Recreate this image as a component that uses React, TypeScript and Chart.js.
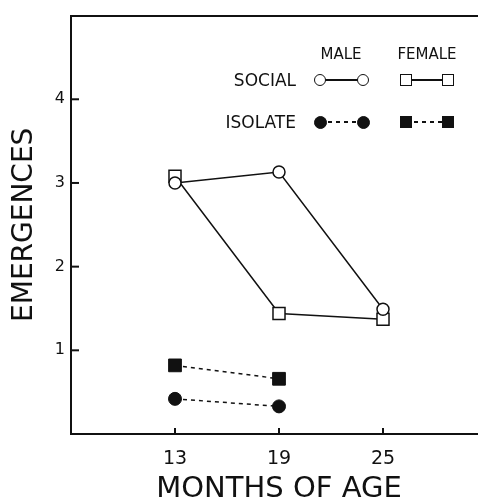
import React, { useEffect, useRef } from "react";
import { Chart, registerables } from "chart.js";
Chart.register(...registerables);

const months = [13, 19, 25];
const isolateMonths = [13, 19];
const maleSocial = [3.0, 3.13, 1.49];
const femaleSocial = [3.08, 1.44, 1.37];
const maleIsolate = [0.42, 0.33];
const femaleIsolate = [0.82, 0.66];
const xTicks = [13, 19, 25];
const yTicks = [1, 2, 3, 4];
const xTitle = "MONTHS OF AGE";
const yTitle = "EMERGENCES";
const legendCols = ["MALE", "FEMALE"];
const legendRows = ["SOCIAL", "ISOLATE"];

const FONT = "'DejaVu Sans', sans-serif";
const INK = "#111";

const toXY = (xs: number[], ys: number[]) => xs.map((x, i) => ({ x, y: ys[i] }));

const tickPlugin = {
  id: "inwardTicks",
  afterDraw(chart: any) {
    const { ctx, chartArea, scales } = chart;
    ctx.save();
    ctx.strokeStyle = INK;
    ctx.lineWidth = 2;
    yTicks.forEach((v) => {
      const py = scales.y.getPixelForValue(v);
      ctx.beginPath();
      ctx.moveTo(chartArea.left, py);
      ctx.lineTo(chartArea.left + 8, py);
      ctx.stroke();
    });
    xTicks.forEach((v) => {
      const px = scales.x.getPixelForValue(v);
      ctx.beginPath();
      ctx.moveTo(px, chartArea.bottom);
      ctx.lineTo(px, chartArea.bottom - 6);
      ctx.stroke();
    });
    ctx.restore();
  },
};

function Marker({ x, y, round, filled }: { x: number; y: number; round: boolean; filled: boolean }) {
  const s = round && filled ? 13 : 12;
  return (
    <div
      style={{
        position: "absolute",
        left: x - s / 2,
        top: y - s / 2,
        width: s,
        height: s,
        boxSizing: "border-box",
        border: `1.5px solid ${INK}`,
        borderRadius: round ? "50%" : 0,
        background: filled ? INK : "#fff",
      }}
    />
  );
}

function LegendLine({ x1, x2, y, dashed }: { x1: number; x2: number; y: number; dashed: boolean }) {
  return (
    <div
      style={{
        position: "absolute",
        left: x1,
        top: y - 0.75,
        width: x2 - x1,
        height: 1.5,
        background: dashed ? `repeating-linear-gradient(to right, ${INK} 0 4px, transparent 4px 8px)` : INK,
      }}
    />
  );
}

function Legend() {
  const colX = [341, 427];
  const markX = [
    [320, 363],
    [406, 448],
  ];
  const rowY = [80, 122];
  const txt = { position: "absolute" as const, fontFamily: FONT, color: INK, lineHeight: 1, whiteSpace: "nowrap" as const };
  return (
    <>
      {legendCols.map((t, i) => (
        <div key={t} style={{ ...txt, fontSize: 15, left: colX[i], top: 54, transform: "translate(-50%, -50%)" }}>
          {t}
        </div>
      ))}
      {legendRows.map((t, r) => (
        <div key={t} style={{ ...txt, fontSize: 17, left: 296, top: rowY[r], transform: "translate(-100%, -50%)" }}>
          {t}
        </div>
      ))}
      {rowY.map((y, r) =>
        markX.map(([x1, x2], c) => (
          <React.Fragment key={`${r}-${c}`}>
            <LegendLine x1={x1} x2={x2} y={y} dashed={r === 1} />
            <Marker x={x1} y={y} round={c === 0} filled={r === 1} />
            <Marker x={x2} y={y} round={c === 0} filled={r === 1} />
          </React.Fragment>
        ))
      )}
    </>
  );
}

export default function App() {
  const ref = useRef<HTMLCanvasElement | null>(null);
  useEffect(() => {
    if (!ref.current) return;
    const social = { borderColor: INK, borderWidth: 1.5, pointBorderWidth: 1.5, pointBorderColor: INK, pointBackgroundColor: "#fff" };
    const isolate = { borderColor: INK, borderWidth: 1.5, borderDash: [4, 4], pointBorderWidth: 1, pointBorderColor: INK, pointBackgroundColor: INK };
    const chart = new Chart(ref.current, {
      type: "line",
      data: {
        datasets: [
          { label: "Male social", data: toXY(months, maleSocial), ...social, pointStyle: "circle", pointRadius: 6 },
          { label: "Female social", data: toXY(months, femaleSocial), ...social, pointStyle: "rect", pointRadius: 8.5 },
          { label: "Male isolate", data: toXY(isolateMonths, maleIsolate), ...isolate, pointStyle: "circle", pointRadius: 6.5 },
          { label: "Female isolate", data: toXY(isolateMonths, femaleIsolate), ...isolate, pointStyle: "rect", pointRadius: 9 },
        ],
      },
      options: {
        animation: false,
        responsive: false,
        devicePixelRatio: 1,
        layout: { autoPadding: false, padding: { top: 14 } },
        plugins: { legend: { display: false }, tooltip: { enabled: false } },
        scales: {
          x: {
            type: "linear",
            min: 7,
            max: 31,
            afterBuildTicks: (s: any) => {
              s.ticks = xTicks.map((v) => ({ value: v }));
            },
            afterFit: (s: any) => {
              s.height = 70;
            },
            grid: { display: false, drawTicks: false },
            border: { color: INK, width: 2 },
            ticks: { color: INK, padding: 14, font: { family: FONT, size: 19 } },
            title: { display: true, text: xTitle, color: INK, padding: 0, font: { family: FONT, size: 29, lineHeight: 1 } },
          },
          xTop: {
            type: "linear",
            position: "top",
            min: 7,
            max: 31,
            afterFit: (s: any) => {
              s.height = 0;
            },
            grid: { display: false, drawTicks: false },
            border: { color: INK, width: 2 },
            ticks: { display: false },
          },
          y: {
            min: 0,
            max: 5,
            afterBuildTicks: (s: any) => {
              s.ticks = yTicks.map((v) => ({ value: v }));
            },
            afterFit: (s: any) => {
              s.width = 71;
            },
            grid: { display: false, drawTicks: false },
            border: { color: INK, width: 2 },
            ticks: { color: INK, padding: 6, font: { family: FONT, size: 16 } },
            title: { display: true, text: yTitle, color: INK, padding: { top: 11, bottom: 0 }, font: { family: FONT, size: 28, lineHeight: 1 } },
          },
        },
      },
      plugins: [tickPlugin],
    });
    return () => chart.destroy();
  }, []);
  return (
    <div style={{ position: "fixed", left: 0, top: 0, width: 478, height: 504, overflow: "hidden", background: "#fff" }}>
      <canvas ref={ref} width={487} height={504} style={{ width: 487, height: 504, display: "block" }} />
      <Legend />
    </div>
  );
}
